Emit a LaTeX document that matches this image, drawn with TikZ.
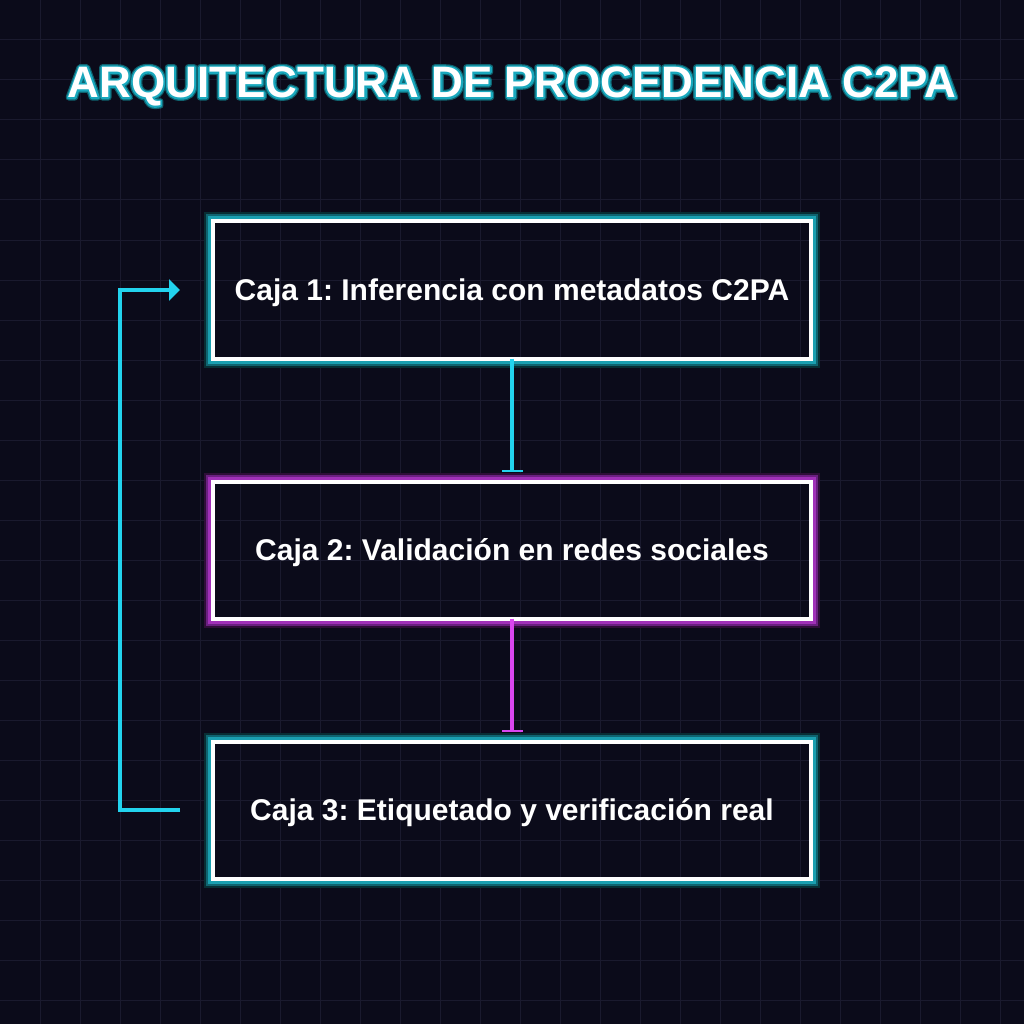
\documentclass[tikz,border=0pt]{standalone}
\usepackage{fontspec}
\setmainfont{Liberation Sans}
\usetikzlibrary{arrows.meta}
\frenchspacing
\definecolor{bg}{HTML}{0B0B1A}
\definecolor{gridc}{HTML}{1A1A2E}
\definecolor{cyanline}{HTML}{22D3EE}
\definecolor{magline}{HTML}{D946EF}
\definecolor{tealA}{HTML}{1A9FB0}
\definecolor{tealB}{HTML}{0F6470}
\definecolor{tealC}{HTML}{082E34}
\definecolor{purpA}{HTML}{A030B8}
\definecolor{purpB}{HTML}{6A2080}
\definecolor{purpC}{HTML}{2E0E38}
\tikzset{
  box/.style={draw=white, line width=4pt, minimum width=598pt, minimum height=137pt,
    inner sep=0pt, outer sep=0pt, text=white, font=\fontsize{30}{36}\selectfont\bfseries,
    text height=21.5pt, text depth=0pt},
  link/.style={line width=4pt},
  titlefont/.style={anchor=base, inner sep=0pt, font=\fontsize{44}{52}\selectfont\bfseries},
}
\newcommand{\glowbox}[4]{%
  \draw[#4, line width=2pt] ([shift={(-8,8)}]#1.north west) rectangle ([shift={(8,-8)}]#1.south east);
  \draw[#3, line width=2pt] ([shift={(-6,6)}]#1.north west) rectangle ([shift={(6,-6)}]#1.south east);
  \draw[#2, line width=3pt] ([shift={(-3.5,3.5)}]#1.north west) rectangle ([shift={(3.5,-3.5)}]#1.south east);
}
\begin{document}
\begin{tikzpicture}[x=1pt,y=1pt]
\fill[bg] (0,0) rectangle (1024,-1024);
\useasboundingbox (0,0) rectangle (1024,-1024);
\foreach \i in {40,80,...,1000} {
  \draw[gridc, line width=1pt] (\i,0) -- (\i,-1024);
  \draw[gridc, line width=1pt] (0,-\i) -- (1024,-\i);
}
% title with outline glow (stroked copy behind, white fill in front)
\node[titlefont, text=tealB] (titleglow) at (512,-97.5) {\special{pdf:literal direct 1 j 6 w 0.06 0.39 0.44 RG 1 Tr}ARQUITECTURA DE PROCEDENCIA C2PA};
\node[titlefont, text=tealA] (titleglow2) at (512,-97.5) {\special{pdf:literal direct 1 j 3.5 w 0.10 0.66 0.74 RG 1 Tr}ARQUITECTURA DE PROCEDENCIA C2PA};
\node[titlefont, text=white] (title) at (512,-97.5) {ARQUITECTURA DE PROCEDENCIA C2PA};

\node[box] (b1) at (512,-290) {Caja 1: Inferencia con metadatos C2PA};
\node[box] (b2) at (512,-550) {Caja 2: Validación en redes sociales};
\node[box] (b3) at (512,-810) {Caja 3: Etiquetado y verificación real};
\glowbox{b1}{tealA}{tealB}{tealC}
\glowbox{b2}{purpA}{purpB}{purpC}
\glowbox{b3}{tealA}{tealB}{tealC}

\draw[link, cyanline, -{Bar[width=21pt, line width=2pt]}] (b1.south) -- ([yshift=10]b2.north);
\draw[link, magline, -{Bar[width=21pt, line width=2pt]}] (b2.south) -- ([yshift=10]b3.north);

\coordinate (s) at ([xshift=-33]b3.west);
\coordinate (e) at ([xshift=-33]b1.west);
\draw[link, cyanline, line join=miter, -{Triangle[width=21pt, length=11pt]}] (s) -- ++(-60.5,0) |- (e);
\end{tikzpicture}
\end{document}
